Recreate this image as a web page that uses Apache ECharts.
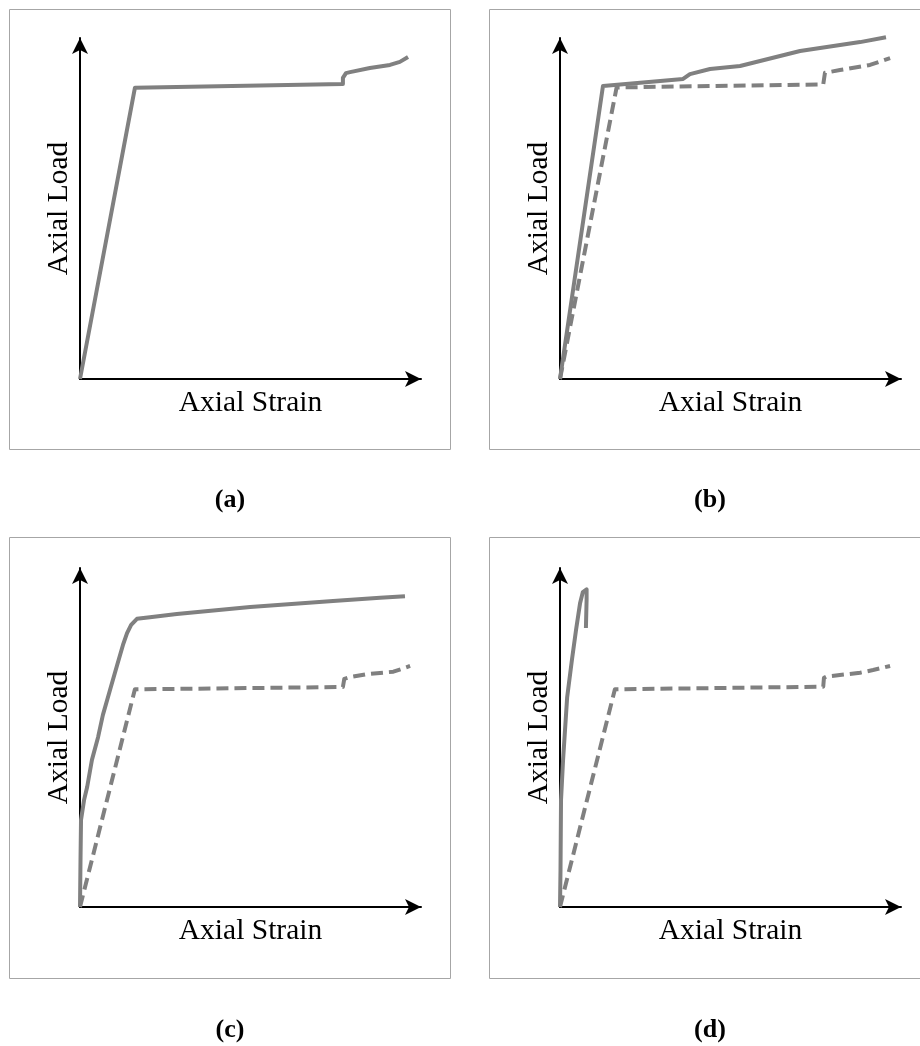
<!DOCTYPE html>
<html>
<head>
<meta charset="utf-8">
<script src="https://cdn.jsdelivr.net/npm/echarts@6/dist/echarts.min.js"></script>
<style>
  html, body { margin: 0; padding: 0; background: #ffffff; }
  #chart { width: 920px; height: 1046px; }
</style>
</head>
<body>
<div id="chart"></div>
<script>
// Panel captions and axis titles
const panelLabels = ['(a)', '(b)', '(c)', '(d)'];
const xAxisTitle = 'Axial Strain';
const yAxisTitle = 'Axial Load';

// Load–strain curves, as [strain, load] on normalised 0–100 axes
const panelASolid = [
  [0, 0], [16.1, 85.4], [77.1, 86.5], [77.1, 88.3], [78.0, 89.7], [79.2, 90.0],
  [85.0, 91.2], [90.9, 92.1], [93.8, 93.0], [96.2, 94.4]
];
const panelBSolid = [
  [0, 0], [12.6, 85.9], [36.1, 88.0], [38.1, 89.4], [44.0, 90.9], [52.8, 91.8],
  [70.4, 96.2], [88.0, 98.8], [95.6, 100.2]
];
const panelBDashed = [
  [0, 0], [16.6, 85.5], [77.2, 86.4], [77.7, 89.8], [82.1, 90.6], [90.9, 92.1], [96.8, 94.1]
];
const panelCSolid = [
  [0, 0], [0.15, 13.9], [0.3, 25.7], [1.2, 31.6], [2.1, 35.4], [3.5, 43.4], [5.3, 50.1],
  [6.7, 56.6], [8.8, 64.0], [10.9, 71.4], [12.6, 77.3], [13.8, 80.8], [15.0, 83.2],
  [16.7, 85.0], [20.5, 85.5], [28.4, 86.4], [49.9, 88.5], [74.2, 90.3], [88.0, 91.2], [95.3, 91.7]
];
const panelCDashed = [
  [0, 0], [16.1, 64.2], [77.1, 64.9], [77.5, 67.3], [79.2, 67.8], [84.1, 68.7],
  [91.9, 69.4], [96.8, 71.1]
];
const panelDSolid = [
  [0, 0], [0.15, 10.9], [0.3, 31.6], [0.9, 43.4], [2.1, 61.9], [3.5, 72.9], [4.7, 81.7],
  [5.9, 89.7], [6.7, 92.9], [7.8, 93.7], [7.8, 90.6], [7.6, 82.3]
];
const panelDDashed = [
  [0, 0], [16.1, 64.2], [77.2, 65.0], [77.4, 67.6], [78.2, 68.0], [88.0, 69.1],
  [91.8, 69.9], [96.8, 71.1]
];

const curveColor = '#808080';
const serifFont = '"Liberation Serif", "Times New Roman", serif';

// Plot frames: origin of the arrowed axes and their lengths
const grids = [
  { left: 80,  top: 38,  width: 341, height: 341 },
  { left: 560, top: 38,  width: 341, height: 341 },
  { left: 80,  top: 568, width: 341, height: 339 },
  { left: 560, top: 568, width: 341, height: 339 }
];
// Outer frame of each panel
const frames = [
  { x: 9.5,   y: 9.5,   w: 441, h: 440 },
  { x: 489.5, y: 9.5,   w: 460, h: 440 },
  { x: 9.5,   y: 537.5, w: 441, h: 441 },
  { x: 489.5, y: 537.5, w: 460, h: 441 }
];
const captionPos = [[230, 500], [710, 500], [230, 1030], [710, 1030]];

const axisLine = {
  show: true,
  onZero: false,
  symbol: ['none', 'arrow'],
  symbolSize: [12, 16],
  symbolOffset: [0, 0],
  lineStyle: { color: '#000000', width: 2 }
};

function makeXAxis(i) {
  return {
    type: 'value', gridIndex: i, min: 0, max: 100,
    axisLine: axisLine, axisTick: { show: false }, axisLabel: { show: false },
    splitLine: { show: false },
    name: xAxisTitle, nameLocation: 'middle', nameGap: 9,
    nameTextStyle: { fontFamily: serifFont, fontSize: 29.5, color: '#000000', verticalAlign: 'top' }
  };
}
function makeYAxis(i) {
  return {
    type: 'value', gridIndex: i, min: 0, max: 100,
    axisLine: axisLine, axisTick: { show: false }, axisLabel: { show: false },
    splitLine: { show: false },
    name: yAxisTitle, nameLocation: 'middle', nameGap: 6,
    nameTextStyle: { fontFamily: serifFont, fontSize: 29.5, color: '#000000' }
  };
}
function curve(data, i, dashed) {
  return {
    type: 'line', xAxisIndex: i, yAxisIndex: i, data: data,
    showSymbol: false, symbol: 'none', clip: false, silent: true,
    lineStyle: { color: curveColor, width: 4, type: dashed ? [12, 6] : 'solid', cap: 'butt', join: 'round' },
    z: dashed ? 2 : 3
  };
}

const graphics = [];
frames.forEach(f => graphics.push({
  type: 'rect', shape: { x: f.x, y: f.y, width: f.w, height: f.h },
  style: { fill: 'none', stroke: '#a6a6a6', lineWidth: 1 }, silent: true, z: 0
}));
panelLabels.forEach((t, i) => graphics.push({
  type: 'text', x: captionPos[i][0], y: captionPos[i][1],
  style: { text: t, font: 'bold 26px ' + serifFont, fill: '#000000', textAlign: 'center', textVerticalAlign: 'middle' },
  silent: true
}));

const chart = echarts.init(document.getElementById('chart'), null, { renderer: 'canvas' });
chart.setOption({
  backgroundColor: '#ffffff',
  animation: false,
  grid: grids,
  xAxis: [0, 1, 2, 3].map(makeXAxis),
  yAxis: [0, 1, 2, 3].map(makeYAxis),
  series: [
    curve(panelASolid, 0, false),
    curve(panelBDashed, 1, true),
    curve(panelBSolid, 1, false),
    curve(panelCDashed, 2, true),
    curve(panelCSolid, 2, false),
    curve(panelDDashed, 3, true),
    curve(panelDSolid, 3, false)
  ],
  graphic: graphics
});
</script>
</body>
</html>
